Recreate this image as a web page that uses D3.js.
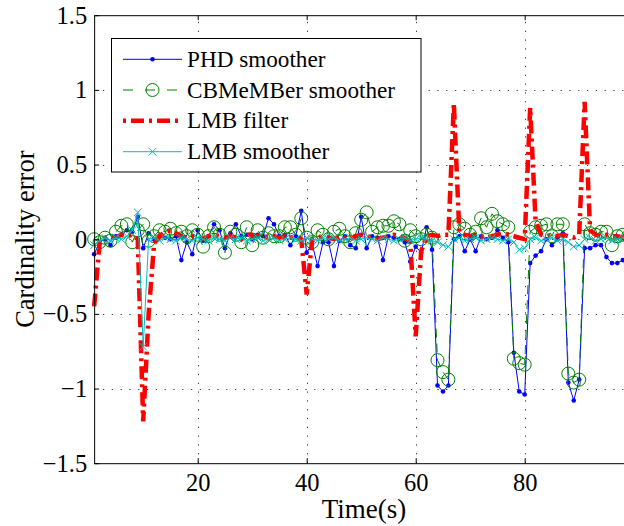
<!DOCTYPE html>
<html><head><meta charset="utf-8">
<script src="https://cdn.jsdelivr.net/npm/d3@7"></script>
<style>html,body{margin:0;padding:0;background:#fff;overflow:hidden;} svg{display:block;}</style>
</head><body>
<svg id="chart" width="624" height="526"></svg>
<script>
// ---------------- data ----------------
const timeSteps = d3.range(1, 101);
const xTicks = [20, 40, 60, 80];
const yTicks = [-1.5, -1, -0.5, 0, 0.5, 1, 1.5];
const yTickLabels = ["\u22121.5", "\u22121", "\u22120.5", "0", "0.5", "1", "1.5"];
const seriesNames = ["PHD smoother", "CBMeMBer smoother", "LMB filter", "LMB smoother"];
const xLabel = "Time(s)";
const yLabel = "Cardinality error";

const phdSmoother = [
 -0.10,-0.02,0.00,-0.04,0.02,0.03,0.06,0.05,0.15,-0.06,
 0.04,0.00,0.02,0.01,0.00,0.02,-0.14,-0.02,-0.10,0.06,
 -0.01,0.02,0.10,0.06,-0.06,0.04,0.10,0.02,0.03,0.00,
 0.03,0.02,0.14,0.10,0.02,0.03,-0.04,0.02,0.19,-0.09,
 -0.03,-0.18,-0.02,-0.02,-0.18,-0.01,0.02,-0.04,-0.06,0.15,
 -0.06,0.02,0.01,-0.14,0.02,0.01,0.00,-0.02,-0.15,-0.05,
 -0.09,0.08,-0.07,-0.98,-1.02,-0.98,0.00,0.02,-0.08,0.00,
 -0.08,0.02,0.00,0.01,0.06,0.01,-0.02,-0.76,-1.02,-1.04,
 -0.16,-0.11,-0.08,0.00,-0.04,0.00,0.04,-0.96,-1.08,-0.94,
 -0.06,-0.06,-0.04,-0.04,-0.12,-0.16,-0.16,-0.14,-0.12,-0.12
];
const cbmemberSmoother = [
 0.00,-0.02,0.01,-0.01,0.05,0.09,0.10,-0.02,0.06,0.10,
 -0.01,0.02,0.06,0.05,0.07,0.04,0.05,0.02,0.06,0.03,
 -0.05,0.02,0.08,0.03,-0.09,0.05,0.03,-0.02,0.08,-0.04,
 0.06,0.01,0.04,0.02,0.02,0.08,0.08,0.03,0.14,0.01,
 -0.02,0.06,0.03,0.00,0.05,0.07,0.02,-0.02,0.04,0.13,
 0.18,0.05,0.08,0.09,0.09,0.12,0.10,-0.01,0.06,0.02,
 0.00,0.03,0.01,-0.81,-0.89,-0.94,0.08,0.10,0.07,0.03,
 0.05,0.14,0.08,0.17,0.12,0.10,0.08,-0.80,-0.83,-0.84,
 0.05,0.08,0.09,0.10,0.02,0.10,0.10,-0.90,-0.96,-0.94,
 0.10,0.04,0.03,0.05,0.05,-0.04,0.02,0.03,0.02,0.01
];
const lmbFilter = [
 -0.45,-0.03,0.01,0.02,0.01,0.03,0.02,0.03,0.00,-1.22,
 -0.50,-0.03,0.02,0.05,0.06,0.04,0.02,0.01,0.02,0.01,
 0.00,0.02,0.03,0.02,0.01,0.02,0.01,0.00,0.03,0.03,
 0.02,0.01,0.02,0.02,0.01,0.02,0.01,0.02,0.00,-0.37,
 0.00,0.01,0.02,0.01,0.00,0.02,0.01,0.00,0.02,0.03,
 0.02,0.01,0.00,0.01,0.02,0.03,0.02,0.01,-0.02,-0.65,
 -0.08,0.02,0.03,0.02,0.03,0.03,0.91,0.05,0.03,0.02,
 0.03,0.02,0.01,0.02,0.03,0.04,0.03,0.02,0.01,0.00,
 0.88,0.12,0.03,0.02,0.03,0.02,0.03,0.02,0.01,0.03,
 0.92,0.06,0.03,0.02,0.03,0.02,0.02,0.01,0.01,0.01
];
const lmbSmoother = [
 -0.04,-0.01,0.01,-0.01,0.01,0.00,0.02,0.06,0.18,-0.72,
 0.00,0.01,-0.01,0.01,0.00,-0.01,0.01,0.00,-0.01,0.01,
 0.00,-0.01,0.01,0.00,-0.01,0.01,0.00,0.01,-0.01,0.00,
 0.01,-0.01,0.00,0.01,-0.01,0.00,0.01,0.00,-0.01,0.01,
 0.00,-0.01,0.01,0.00,0.01,-0.01,0.00,0.01,-0.01,0.00,
 0.01,0.00,-0.01,0.01,0.00,-0.01,0.00,0.01,-0.01,0.00,
 0.01,0.00,-0.01,-0.02,-0.04,-0.05,0.00,0.01,-0.01,0.00,
 0.01,-0.01,0.00,0.01,0.00,-0.01,0.00,-0.02,-0.07,-0.06,
 0.00,0.01,-0.01,0.00,0.01,-0.01,0.00,-0.02,-0.05,-0.04,
 0.00,0.01,-0.01,0.00,0.01,-0.01,0.00,0.01,0.00,-0.01
];

// ---------------- chart ----------------
const svg = d3.select("#chart");
const FONT = "'Liberation Serif','Times New Roman',serif";
const x = d3.scaleLinear().domain([1, 100]).range([94.15, 633.7]);
const y = d3.scaleLinear().domain([-1.5, 1.5]).range([463.2, 15.2]);

const [x0, x1] = x.range();
const [yb, yt] = y.range();

svg.append("rect").attr("x", x0).attr("y", yt).attr("width", x1 - x0).attr("height", yb - yt).attr("fill", "#fff");

// grid
const grid = svg.append("g").attr("stroke", "#000").attr("stroke-width", 1).attr("stroke-dasharray", "1.3,7.5").attr("opacity", 0.75);
grid.selectAll("line.v").data(xTicks).join("line")
  .attr("x1", d => Math.round(x(d)) + 0.5).attr("x2", d => Math.round(x(d)) + 0.5)
  .attr("y1", yb).attr("y2", yt);
grid.selectAll("line.h").data(yTicks.filter(d => d > -1.5 && d < 1.5)).join("line")
  .attr("class", "h")
  .attr("y1", d => Math.round(y(d)) + 0.5).attr("y2", d => Math.round(y(d)) + 0.5)
  .attr("x1", x0).attr("x2", x1);

// series
const pts = arr => timeSteps.map((t, i) => [t, arr[i]]);
const line = d3.line().x(d => x(d[0])).y(d => y(d[1]));

// PHD smoother
svg.append("path").datum(pts(phdSmoother)).attr("d", line)
  .attr("fill", "none").attr("stroke", "#0000ff").attr("stroke-width", 1);
svg.append("g").selectAll("circle").data(pts(phdSmoother)).join("circle")
  .attr("cx", d => x(d[0])).attr("cy", d => y(d[1])).attr("r", 2.3).attr("fill", "#0000ff");

// CBMeMBer smoother
svg.append("path").datum(pts(cbmemberSmoother)).attr("d", line)
  .attr("fill", "none").attr("stroke", "#008000").attr("stroke-width", 1).attr("stroke-dasharray", "9,6");
svg.append("g").selectAll("circle").data(pts(cbmemberSmoother)).join("circle")
  .attr("cx", d => x(d[0])).attr("cy", d => y(d[1])).attr("r", 6.5)
  .attr("fill", "none").attr("stroke", "#008000").attr("stroke-width", 1);

// LMB filter
svg.append("path").datum(pts(lmbFilter)).attr("d", line)
  .attr("fill", "none").attr("stroke", "#ff0000").attr("stroke-width", 4.5).attr("stroke-dasharray", "13,5,3,5");

// LMB smoother
const xMark = (cx, cy, s) => `M${cx - s},${cy - s}L${cx + s},${cy + s}M${cx - s},${cy + s}L${cx + s},${cy - s}`;
svg.append("path").datum(pts(lmbSmoother)).attr("d", line)
  .attr("fill", "none").attr("stroke", "#00bfbf").attr("stroke-width", 1);
svg.append("g").selectAll("path").data(pts(lmbSmoother)).join("path")
  .attr("d", d => xMark(x(d[0]), y(d[1]), 3.8))
  .attr("fill", "none").attr("stroke", "#00bfbf").attr("stroke-width", 1);

// axes
const axisStyle = g => {
  g.selectAll("path.domain").attr("stroke", "#000").attr("stroke-width", 1);
  g.selectAll(".tick line").attr("stroke", "#000").attr("stroke-width", 1);
  g.selectAll("text").attr("font-family", FONT).attr("font-size", 24.5).attr("fill", "#000");
};
svg.append("g").attr("transform", `translate(${x0},0)`)
  .call(d3.axisLeft(y).tickValues(yTicks).tickFormat((d, i) => yTickLabels[i]).tickSizeInner(-5).tickSizeOuter(0).tickPadding(7))
  .call(axisStyle);
svg.append("g").attr("transform", `translate(0,${yb})`)
  .call(d3.axisBottom(x).tickValues(xTicks).tickFormat(d3.format("d")).tickSizeInner(-5).tickSizeOuter(0).tickPadding(10))
  .call(axisStyle);
svg.append("g").attr("transform", `translate(0,${yt})`)
  .call(d3.axisTop(x).tickValues(xTicks).tickFormat("").tickSizeInner(-5).tickSizeOuter(0))
  .call(axisStyle);

// axis labels
svg.append("text").attr("x", (x0 + x1) / 2).attr("y", 518).attr("text-anchor", "middle")
  .attr("font-family", FONT).attr("font-size", 27).text(xLabel);
svg.append("text").attr("transform", `translate(34,${(yt + yb) / 2}) rotate(-90)`).attr("text-anchor", "middle")
  .attr("font-family", FONT).attr("font-size", 26.5).text(yLabel);

// legend
const lg = svg.append("g");
lg.append("rect").attr("x", 111.5).attr("y", 38.5).attr("width", 309.5).attr("height", 133.5)
  .attr("fill", "#fff").attr("stroke", "#000").attr("stroke-width", 1);
const rowY = [59.3, 90, 120.7, 151.7];
const lx0 = 123, lx1 = 182, lmid = 152.5;
const styles = [
  {stroke: "#0000ff", w: 1, dash: null},
  {stroke: "#008000", w: 1, dash: "10,12"},
  {stroke: "#ff0000", w: 4.5, dash: "3,5,13,5"},
  {stroke: "#00bfbf", w: 1, dash: null}
];
seriesNames.forEach((name, i) => {
  const yy = rowY[i], s = styles[i];
  lg.append("line").attr("x1", lx0).attr("x2", lx1).attr("y1", yy).attr("y2", yy)
    .attr("stroke", s.stroke).attr("stroke-width", s.w).attr("stroke-dasharray", s.dash);
  if (i === 0) lg.append("circle").attr("cx", lmid).attr("cy", yy).attr("r", 2.3).attr("fill", s.stroke);
  if (i === 1) lg.append("circle").attr("cx", lmid).attr("cy", yy).attr("r", 6.5).attr("fill", "none").attr("stroke", s.stroke);
  if (i === 3) lg.append("path").attr("d", xMark(lmid, yy, 3.8)).attr("stroke", s.stroke).attr("fill", "none");
  lg.append("text").attr("x", 187).attr("y", yy + 7.5).attr("font-family", FONT).attr("font-size", 23.2)
    .attr("fill", "#000").text(name);
});
</script>
</body></html>
